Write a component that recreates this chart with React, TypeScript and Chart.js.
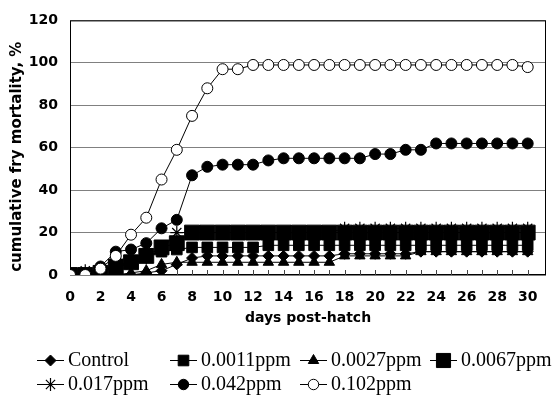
import React, { useEffect, useRef } from 'react';
import { Chart, registerables } from 'chart.js';
import { drawPoint } from 'chart.js/helpers';

Chart.register(...registerables);

const days = [0, 1, 2, 3, 4, 5, 6, 7, 8, 9, 10, 11, 12, 13, 14, 15, 16, 17, 18, 19, 20, 21, 22, 23, 24, 25, 26, 27, 28, 29, 30];
const xTickValues = [0, 2, 4, 6, 8, 10, 12, 14, 16, 18, 20, 22, 24, 26, 28, 30];
const yTickValues = [0, 20, 40, 60, 80, 100, 120];

const seriesNames = ['Control', '0.0011ppm', '0.0027ppm', '0.0067ppm', '0.017ppm', '0.042ppm', '0.102ppm'];

const control = [0, 0, 0, 0, 0, 1, 2, 5, 8, 9, 9, 9, 9, 9, 9, 9, 9, 9, 10, 10, 10, 10, 10, 11, 11, 11, 11, 11, 11, 11, 11];
const p0011 = [0, 0, 2, 5, 6, 9, 11, 12, 13, 13, 13, 13, 13, 14, 14, 14, 14, 14, 14, 14, 14, 14, 14, 14, 14, 14, 14, 14, 14, 14, 14];
const p0027 = [0, 0, 0, 0, 1, 2, 5, 6, 6, 6, 6, 6, 6, 6, 6, 6, 6, 6, 9, 9, 9, 9, 9, 11, 11, 11, 11, 11, 11, 11, 11];
const p0067 = [0, 0, 1, 4, 6, 9, 13, 15, 20, 20, 20, 20, 20, 20, 20, 20, 20, 20, 20, 20, 20, 20, 20, 20, 20, 20, 20, 20, 20, 20, 20];
const p017 = [0, 2, 2, 4, 5, 8, 12, 20, 20, 20, 20, 20, 20, 20, 20, 20, 20, 20, 22, 22, 22, 22, 22, 22, 22, 22, 22, 22, 22, 22, 22];
const p042 = [0, 0, 4, 11, 12, 15, 22, 26, 47, 51, 52, 52, 52, 54, 55, 55, 55, 55, 55, 55, 57, 57, 59, 59, 62, 62, 62, 62, 62, 62, 62];
const p102 = [0, 0, 3, 9, 19, 27, 45, 59, 75, 88, 97, 97, 99, 99, 99, 99, 99, 99, 99, 99, 99, 99, 99, 99, 99, 99, 99, 99, 99, 99, 98];

const xTitle = 'days post-hatch';
const yTitle = 'cumulative fry mortality, %';

const seriesValues = [control, p0011, p0027, p0067, p017, p042, p102];

type Style = { pointStyle: string; radius: number; bg: string; bw: number };
const styles: Style[] = [
  { pointStyle: 'rectRot', radius: 5.5, bg: '#000', bw: 1 },
  { pointStyle: 'rect', radius: 7.5, bg: '#000', bw: 1 },
  { pointStyle: 'triangle', radius: 6, bg: '#000', bw: 1 },
  { pointStyle: 'rect', radius: 10.5, bg: '#000', bw: 1 },
  { pointStyle: 'star', radius: 6.5, bg: '#000', bw: 1.2 },
  { pointStyle: 'circle', radius: 5.5, bg: '#000', bw: 1 },
  { pointStyle: 'circle', radius: 5.5, bg: '#fff', bw: 1 },
];

const legendCols = [37, 170, 300, 430];
const legendRows = [360, 384];
const legendScale = [1, 1, 1, 0.95, 1, 0.95, 0.95];

const decorPlugin = {
  id: 'decor',
  beforeDatasetsDraw(chart: any) {
    const { ctx, chartArea } = chart;
    const xs = chart.scales.x;
    ctx.save();
    ctx.strokeStyle = '#000';
    ctx.lineWidth = 1;
    ctx.strokeRect(chartArea.left + 0.5, chartArea.top + 0.5, chartArea.right - chartArea.left - 1, chartArea.bottom - chartArea.top - 1);
    ctx.strokeStyle = '#444';
    ctx.beginPath();
    for (const d of days) {
      const px = Math.round(xs.getPixelForValue(d)) + 0.5;
      ctx.moveTo(px, chartArea.bottom - 5);
      ctx.lineTo(px, chartArea.bottom);
    }
    ctx.stroke();
    ctx.restore();
  },
  afterDraw(chart: any) {
    const { ctx, chartArea } = chart;
    ctx.save();
    ctx.fillStyle = '#000';
    ctx.textAlign = 'center';
    ctx.textBaseline = 'middle';
    ctx.font = 'bold 14px "DejaVu Sans"';
    ctx.fillText(xTitle, (chartArea.left + chartArea.right) / 2, chartArea.bottom + 43);
    ctx.save();
    ctx.font = 'bold 15px "DejaVu Sans"';
    ctx.translate(17, (chartArea.top + chartArea.bottom) / 2 + 9);
    ctx.rotate(-Math.PI / 2);
    ctx.fillText(yTitle, 0, 0);
    ctx.restore();

    // legend
    ctx.font = '20px "Liberation Serif"';
    ctx.textAlign = 'left';
    chart.data.datasets.forEach((ds: any, i: number) => {
      const col = i < 4 ? i : i - 4;
      const row = i < 4 ? 0 : 1;
      const x = legendCols[col];
      const y = legendRows[row];
      ctx.strokeStyle = '#000';
      ctx.lineWidth = 1;
      ctx.beginPath();
      ctx.moveTo(x, y + 0.5);
      ctx.lineTo(x + 27, y + 0.5);
      ctx.stroke();
      const st = styles[i];
      ctx.fillStyle = st.bg;
      ctx.strokeStyle = '#000';
      ctx.lineWidth = st.bw;
      drawPoint(ctx, { pointStyle: st.pointStyle as any, radius: st.radius * legendScale[i], rotation: 0, borderWidth: st.bw }, x + 13.5, y + 0.5);
      ctx.fillStyle = '#000';
      ctx.fillText(ds.label, x + 31, y + 1);
    });
    ctx.restore();
  },
};

export default function App() {
  const ref = useRef<HTMLCanvasElement | null>(null);
  useEffect(() => {
    if (!ref.current) return;
    const datasets = seriesNames.map((name, i) => ({
      label: name,
      data: seriesValues[i].map((v, j) => ({ x: days[j], y: v })),
      borderColor: '#000',
      borderWidth: 1,
      backgroundColor: styles[i].bg,
      pointStyle: styles[i].pointStyle as any,
      pointRadius: styles[i].radius,
      pointBackgroundColor: styles[i].bg,
      pointBorderColor: '#000',
      pointBorderWidth: styles[i].bw,
      fill: false,
      tension: 0,
      order: 6 - i,
    }));
    const chart = new Chart(ref.current, {
      type: 'line',
      data: { datasets },
      options: {
        animation: false,
        responsive: false,
        devicePixelRatio: 1,
        layout: { padding: { left: 0, right: 12, top: 20, bottom: 0 } },
        plugins: { legend: { display: false }, tooltip: { enabled: false } },
        scales: {
          x: {
            type: 'linear',
            min: 0,
            max: 31.2,
            afterBuildTicks: (scale: any) => {
              scale.ticks = xTickValues.map((v) => ({ value: v }));
            },
            afterFit: (scale: any) => {
              scale.height = 125;
            },
            grid: { display: false, drawTicks: false },
            border: { display: false },
            ticks: {
              padding: 14,
              color: '#000',
              font: { family: '"DejaVu Sans"', size: 14, weight: 'bold' },
              maxRotation: 0,
              autoSkip: false,
            },
          },
          y: {
            min: 0,
            max: 120,
            afterBuildTicks: (scale: any) => {
              scale.ticks = yTickValues.map((v) => ({ value: v }));
            },
            afterFit: (scale: any) => {
              scale.width = 70;
            },
            grid: { color: '#808080', lineWidth: 1, drawTicks: false },
            border: { display: false },
            ticks: {
              padding: 12,
              color: '#000',
              font: { family: '"DejaVu Sans"', size: 14, weight: 'bold' },
            },
          },
        },
      },
      plugins: [decorPlugin],
    });
    return () => chart.destroy();
  }, []);
  return (
    <div style={{ position: 'absolute', left: 0, top: 0, width: 558, height: 400 }}>
      <canvas ref={ref} width={558} height={400} />
    </div>
  );
}
